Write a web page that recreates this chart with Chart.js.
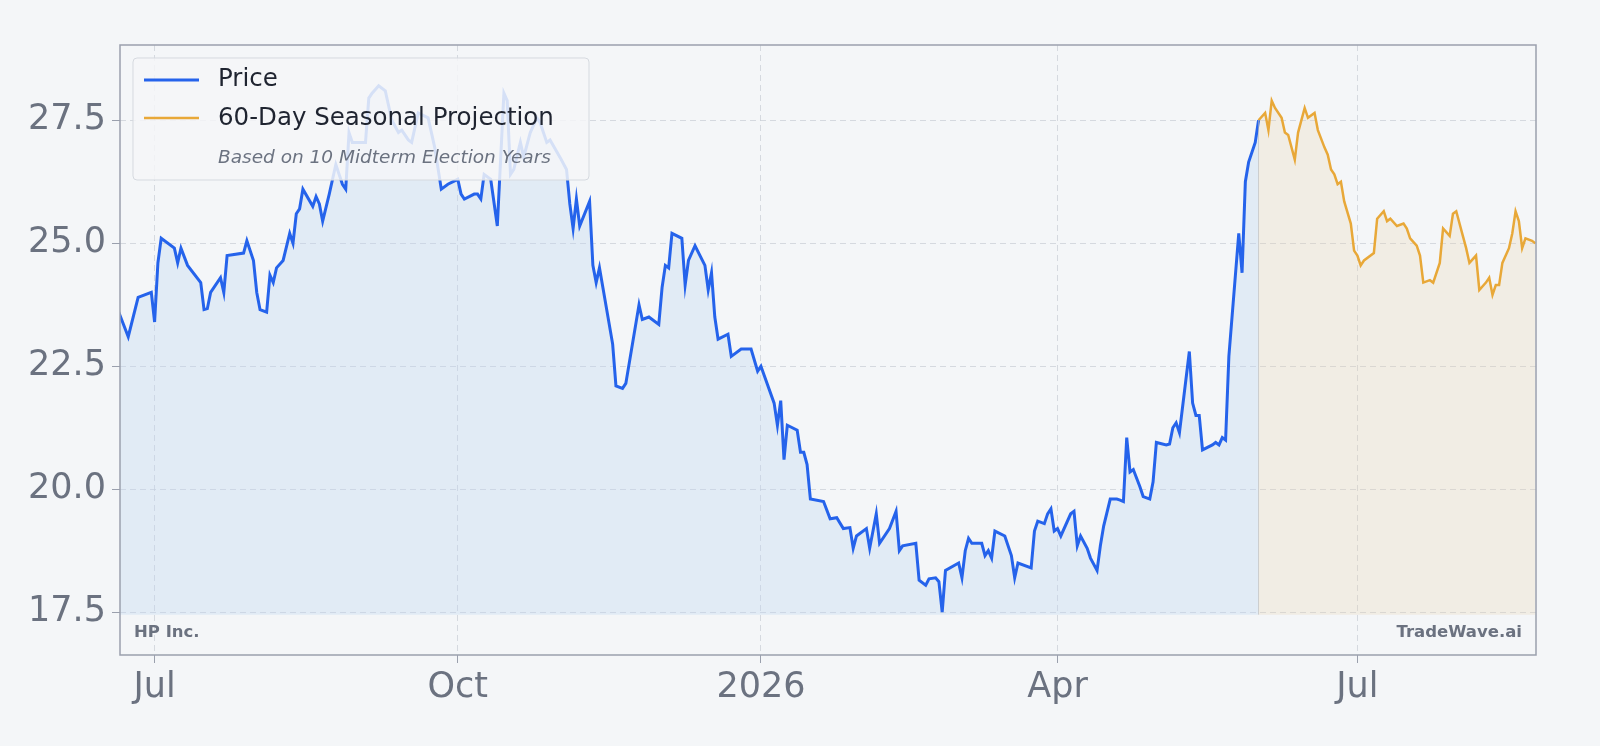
<!DOCTYPE html>
<html><head><meta charset="utf-8">
<script src="https://cdn.jsdelivr.net/npm/chart.js@4"></script>
<style>html,body{margin:0;padding:0;background:#f4f6f8;}#wrap{width:1600px;height:746px;}</style>
</head><body><div id="wrap"><canvas id="c" width="1600" height="746"></canvas></div>
<script>
// Day offsets relative to 2025-07-01
const priceDays = [-11,-8,-5,-1,0,1,2,6,7,8,10,14,15,16,17,20,21,22,27,28,30,31,32,34,35,36,37,39,41,42,43,44,45,48,49,50,51,53,55,57,58,59,60,64,65,66,68,70,72,74,75,77,78,80,83,85,87,89,92,93,94,97,98,99,100,102,104,106,107,108,109,111,112,114,116,117,119,120,123,125,126,127,128,129,132,133,134,135,139,140,142,143,147,148,150,153,154,155,156,157,160,161,162,164,167,168,169,170,171,174,175,178,181,183,184,188,189,190,191,192,195,196,197,198,199,203,205,207,209,211,212,213,216,217,219,220,223,225,226,227,231,232,234,235,237,238,239,240,244,245,246,247,248,251,252,253,254,255,258,260,261,262,266,267,268,270,271,272,273,274,275,278,279,280,281,283,284,286,287,288,290,292,293,294,295,296,297,299,300,302,303,304,307,308,309,310,311,314,315,316,317,318,321,322,323,324,325,326,329,330,331,332,334,335];
const priceValues = [23.62,23.1,23.9,24.0,23.4,24.6,25.1,24.9,24.6,24.9,24.55,24.2,23.65,23.67,24.0,24.3,24.0,24.75,24.8,25.05,24.65,24.0,23.65,23.6,24.35,24.2,24.5,24.65,25.2,25.0,25.6,25.7,26.1,25.75,25.95,25.8,25.45,26.0,26.6,26.2,26.1,27.25,27.05,27.05,27.95,28.05,28.2,28.1,27.5,27.25,27.3,27.1,27.05,27.65,27.55,26.95,26.1,26.2,26.3,26.0,25.9,26.0,26.0,25.9,26.4,26.3,25.35,28.05,27.9,26.4,26.5,27.05,26.75,27.25,27.55,27.45,27.05,27.1,26.75,26.5,25.8,25.3,25.9,25.35,25.85,24.55,24.2,24.5,22.95,22.1,22.05,22.15,23.75,23.45,23.5,23.35,24.1,24.55,24.5,25.2,25.1,24.15,24.65,24.95,24.55,24.05,24.4,23.5,23.05,23.15,22.7,22.85,22.85,22.4,22.5,21.75,21.3,21.8,20.6,21.3,21.2,20.75,20.75,20.5,19.8,19.75,19.4,19.42,19.2,19.22,18.8,19.05,19.2,18.8,19.5,18.9,19.2,19.55,18.75,18.85,18.9,18.15,18.05,18.18,18.2,18.12,17.5,18.35,18.5,18.2,18.75,19.0,18.9,18.9,18.65,18.75,18.6,19.15,19.05,18.65,18.2,18.5,18.4,19.15,19.35,19.3,19.5,19.6,19.15,19.2,19.05,19.5,19.55,18.85,19.05,18.8,18.6,18.35,18.85,19.25,19.8,19.8,19.78,19.75,21.05,20.35,20.4,20.05,19.85,19.8,20.15,20.95,20.9,20.92,21.25,21.35,21.15,22.8,21.75,21.5,21.5,20.8,20.9,20.95,20.9,21.05,21.0,22.7,25.2,24.4,26.25,26.65,27.05,27.5];
const projDays = [335,337,338,339,340,342,343,344,346,347,349,350,352,353,355,356,357,358,359,360,361,363,364,365,366,367,370,371,373,374,375,377,379,380,381,383,384,385,387,388,390,391,393,394,395,397,398,399,401,402,404,405,406,407,408,409,411,412,413,414,415,416,418,419];
const projValues = [27.5,27.65,27.3,27.9,27.75,27.55,27.25,27.2,26.7,27.25,27.75,27.55,27.65,27.3,26.95,26.8,26.5,26.4,26.2,26.25,25.85,25.4,24.85,24.75,24.55,24.65,24.8,25.5,25.65,25.45,25.5,25.35,25.4,25.3,25.1,24.95,24.75,24.2,24.25,24.2,24.6,25.3,25.15,25.6,25.65,25.15,24.9,24.6,24.75,24.05,24.2,24.3,23.95,24.15,24.15,24.6,24.9,25.2,25.65,25.45,24.9,25.1,25.05,25.0];
const xTickDays = [0,92,184,274,365];
const xTickLabels = ['Jul','Oct','2026','Apr','Jul'];
const yTicks = [17.5,20.0,22.5,25.0,27.5];
const seriesNames = ['Price','60-Day Seasonal Projection'];
const legendNote = 'Based on 10 Midterm Election Years';
const company = 'HP Inc.';
const brand = 'TradeWave.ai';

const FILL_BASE = 17.45;
const overlay = {
  id:'overlay',
  afterDraw(chart){
    const {ctx, chartArea:a, scales:{x,y}} = chart;
    ctx.save();
    const xd = x.getPixelForValue(projDays[0]);
    ctx.strokeStyle='rgba(180,180,180,0.6)';ctx.lineWidth=1;
    ctx.beginPath();ctx.moveTo(xd,y.getPixelForValue(projValues[0]));ctx.lineTo(xd,y.getPixelForValue(FILL_BASE));ctx.stroke();
    ctx.strokeStyle='#9aa0ad';ctx.lineWidth=1.5;ctx.strokeRect(a.left,a.top,a.right-a.left,a.bottom-a.top);
    const lx=a.left+13, ly=a.top+13, lw=456, lh=122;
    ctx.fillStyle='rgba(244,246,248,0.85)';ctx.strokeStyle='#d5d9df';ctx.lineWidth=1;
    ctx.beginPath();ctx.roundRect(lx,ly,lw,lh,4);ctx.fill();ctx.stroke();
    ctx.lineWidth=3;ctx.strokeStyle='#2563eb';
    ctx.beginPath();ctx.moveTo(lx+11,ly+22);ctx.lineTo(lx+66,ly+22);ctx.stroke();
    ctx.lineWidth=2.5;ctx.strokeStyle='#e8a838';
    ctx.beginPath();ctx.moveTo(lx+11,ly+60);ctx.lineTo(lx+66,ly+60);ctx.stroke();
    ctx.fillStyle='#1f2430';ctx.font='24.5px "DejaVu Sans"';ctx.textBaseline='middle';
    ctx.fillText(seriesNames[0],lx+85,ly+22);
    ctx.fillText(seriesNames[1],lx+85,ly+61);
    ctx.fillStyle='#6b7280';ctx.font='italic 18.5px "DejaVu Sans"';
    ctx.fillText(legendNote,lx+85,ly+100);
    ctx.font='bold 16.5px "DejaVu Sans"';ctx.fillStyle='#6b7280';
    ctx.textAlign='left';ctx.fillText(company,a.left+14,a.bottom-22);
    ctx.textAlign='right';ctx.fillText(brand,a.right-14,a.bottom-22);
    ctx.restore();
  }
};

new Chart(document.getElementById('c'),{
  type:'line',
  data:{datasets:[
    {label:seriesNames[0],data:priceDays.map((d,i)=>({x:d,y:priceValues[i]})),borderColor:'#2563eb',borderWidth:3,pointRadius:0,tension:0,fill:{value:FILL_BASE},backgroundColor:'rgba(186,211,240,0.32)'},
    {label:seriesNames[1],data:projDays.map((d,i)=>({x:d,y:projValues[i]})),borderColor:'#e8a838',borderWidth:2.5,pointRadius:0,tension:0,fill:{value:FILL_BASE},backgroundColor:'rgba(232,205,160,0.22)'}
  ]},
  options:{
    responsive:false,animation:false,
    layout:{padding:{top:45,right:64,left:0,bottom:0}},
    plugins:{legend:{display:false},tooltip:{enabled:false}},
    scales:{
      x:{type:'linear',min:-10.5,max:419.2,
        afterBuildTicks(s){s.ticks=xTickDays.map(v=>({value:v}));},
        afterFit(s){s.height=91;},
        ticks:{callback:(v)=>{const i=xTickDays.indexOf(v);return i>=0?xTickLabels[i]:'';},color:'#6b7280',font:{family:'DejaVu Sans',size:35},padding:4,maxRotation:0,autoSkip:false},
        grid:{color:'rgba(200,205,212,0.7)',tickLength:8,tickColor:'#9aa0ad'},border:{display:false,dash:[6,4]}},
      y:{min:16.63,max:29.03,
        afterBuildTicks(s){s.ticks=yTicks.map(v=>({value:v}));},
        afterFit(s){s.width=120;},
        ticks:{callback:(v)=>v.toFixed(1),color:'#6b7280',font:{family:'DejaVu Sans',size:35},padding:6},
        grid:{color:'rgba(200,205,212,0.7)',tickLength:8,tickColor:'#9aa0ad'},border:{display:false,dash:[6,4]}}
    }
  },
  plugins:[overlay]
});
</script></body></html>
